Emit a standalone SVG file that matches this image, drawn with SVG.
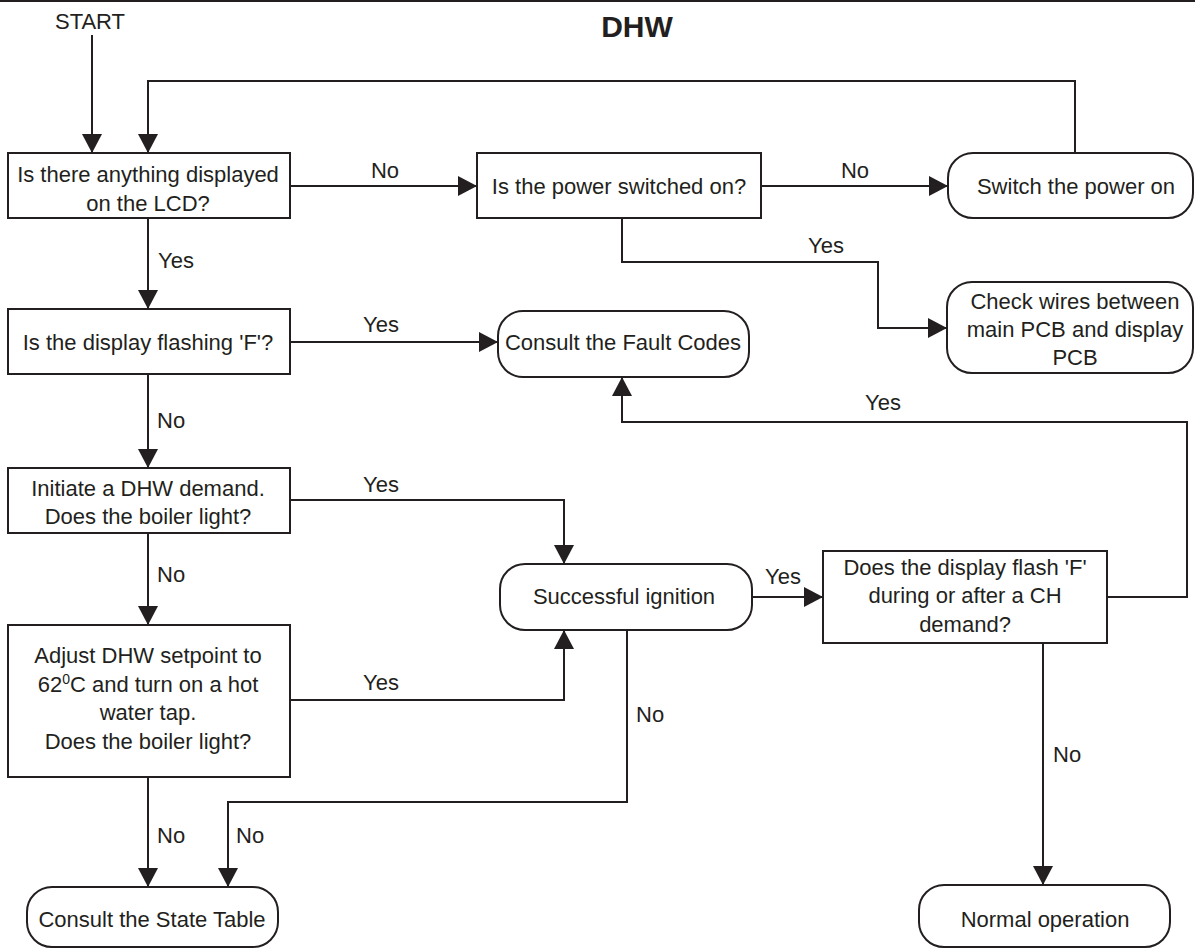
<svg xmlns="http://www.w3.org/2000/svg" width="1195" height="949" viewBox="0 0 1195 949">
<style>
.box{fill:#fff;stroke:#231f20;stroke-width:2}
.ln{fill:none;stroke:#231f20;stroke-width:2}
text{font-family:"Liberation Sans",Arial,sans-serif;font-size:22px;fill:#231f20}
.c{text-anchor:middle}
.t{font-weight:bold;font-size:30px}
</style>
<defs>
<marker id="ah" markerUnits="userSpaceOnUse" markerWidth="20" markerHeight="20" refX="19" refY="10" orient="auto">
<path d="M0,0 L19,10 L0,20 z" fill="#231f20"/>
</marker>
</defs>
<rect width="1195" height="949" fill="#fff"/>
<line x1="0" y1="1" x2="1195" y2="1" class="ln"/>
<text x="637" y="37" class="c t">DHW</text>
<text x="90" y="29" class="c">START</text>

<g id="connectors">
<path class="ln" d="M92,35 V153" marker-end="url(#ah)"/>
<path class="ln" d="M1075,153 V81 H148 V153" marker-end="url(#ah)"/>
<path class="ln" d="M290,186 H477" marker-end="url(#ah)"/>
<path class="ln" d="M761,186 H948" marker-end="url(#ah)"/>
<path class="ln" d="M622,218 V262 H878 V328 H947" marker-end="url(#ah)"/>
<path class="ln" d="M148,218 V309" marker-end="url(#ah)"/>
<path class="ln" d="M290,342 H498" marker-end="url(#ah)"/>
<path class="ln" d="M1107,597 H1187 V422 H622 V377" marker-end="url(#ah)"/>
<path class="ln" d="M148,374 V468" marker-end="url(#ah)"/>
<path class="ln" d="M290,500 H564 V564" marker-end="url(#ah)"/>
<path class="ln" d="M148,533 V625" marker-end="url(#ah)"/>
<path class="ln" d="M290,700 H564 V630" marker-end="url(#ah)"/>
<path class="ln" d="M627,630 V802 H228 V887" marker-end="url(#ah)"/>
<path class="ln" d="M148,777 V887" marker-end="url(#ah)"/>
<path class="ln" d="M752,597 H823" marker-end="url(#ah)"/>
<path class="ln" d="M1043,643 V885" marker-end="url(#ah)"/>
<text x="385" y="178" class="c">No</text>
<text x="855" y="178" class="c">No</text>
<text x="826" y="253" class="c">Yes</text>
<text x="158" y="268">Yes</text>
<text x="381" y="332" class="c">Yes</text>
<text x="883" y="410" class="c">Yes</text>
<text x="157" y="428">No</text>
<text x="381" y="492" class="c">Yes</text>
<text x="157" y="582">No</text>
<text x="381" y="690" class="c">Yes</text>
<text x="636" y="722">No</text>
<text x="236" y="843">No</text>
<text x="157" y="843">No</text>
<text x="783" y="584" class="c">Yes</text>
<text x="1053" y="762">No</text>
</g>

<g id="n1">
<rect class="box" x="8" y="153" width="282" height="65"/>
<text x="148" y="182" class="c">Is there anything displayed</text>
<text x="148" y="211" class="c">on the LCD?</text>
</g>
<g id="n2">
<rect class="box" x="477" y="153" width="284" height="65"/>
<text x="619" y="194" class="c">Is the power switched on?</text>
</g>
<g id="n3">
<rect class="box" x="948" y="153" width="245" height="65" rx="25"/>
<text x="1076" y="194" class="c">Switch the power on</text>
</g>
<g id="n4">
<rect class="box" x="947" y="282" width="246" height="91" rx="25"/>
<text x="1075" y="309" class="c">Check wires between</text>
<text x="1075" y="337" class="c">main PCB and display</text>
<text x="1075" y="365" class="c">PCB</text>
</g>
<g id="n5">
<rect class="box" x="8" y="309" width="282" height="65"/>
<text x="148" y="350" class="c">Is the display flashing 'F'?</text>
</g>
<g id="n6">
<rect class="box" x="498" y="311" width="251" height="66" rx="25"/>
<text x="623" y="350" class="c">Consult the Fault Codes</text>
</g>
<g id="n7">
<rect class="box" x="8" y="468" width="282" height="65"/>
<text x="148" y="496" class="c">Initiate a DHW demand.</text>
<text x="148" y="524" class="c">Does the boiler light?</text>
</g>
<g id="n8">
<rect class="box" x="8" y="625" width="282" height="152"/>
<text x="148" y="663" class="c">Adjust DHW setpoint to</text>
<text x="148" y="692" class="c">62<tspan font-size="14" dy="-8">0</tspan><tspan dy="8">C and turn on a hot</tspan></text>
<text x="148" y="720" class="c">water tap.</text>
<text x="148" y="749" class="c">Does the boiler light?</text>
</g>
<g id="n9">
<rect class="box" x="500" y="564" width="252" height="66" rx="25"/>
<text x="624" y="604" class="c">Successful ignition</text>
</g>
<g id="n10">
<rect class="box" x="823" y="551" width="284" height="92"/>
<text x="965" y="575" class="c">Does the display flash 'F'</text>
<text x="965" y="603" class="c">during or after a CH</text>
<text x="965" y="632" class="c">demand?</text>
</g>
<g id="n11">
<rect class="box" x="27" y="887" width="251" height="60" rx="25"/>
<text x="152" y="927" class="c">Consult the State Table</text>
</g>
<g id="n12">
<rect class="box" x="919" y="885" width="251" height="62" rx="25"/>
<text x="1045" y="927" class="c">Normal operation</text>
</g>
</svg>
